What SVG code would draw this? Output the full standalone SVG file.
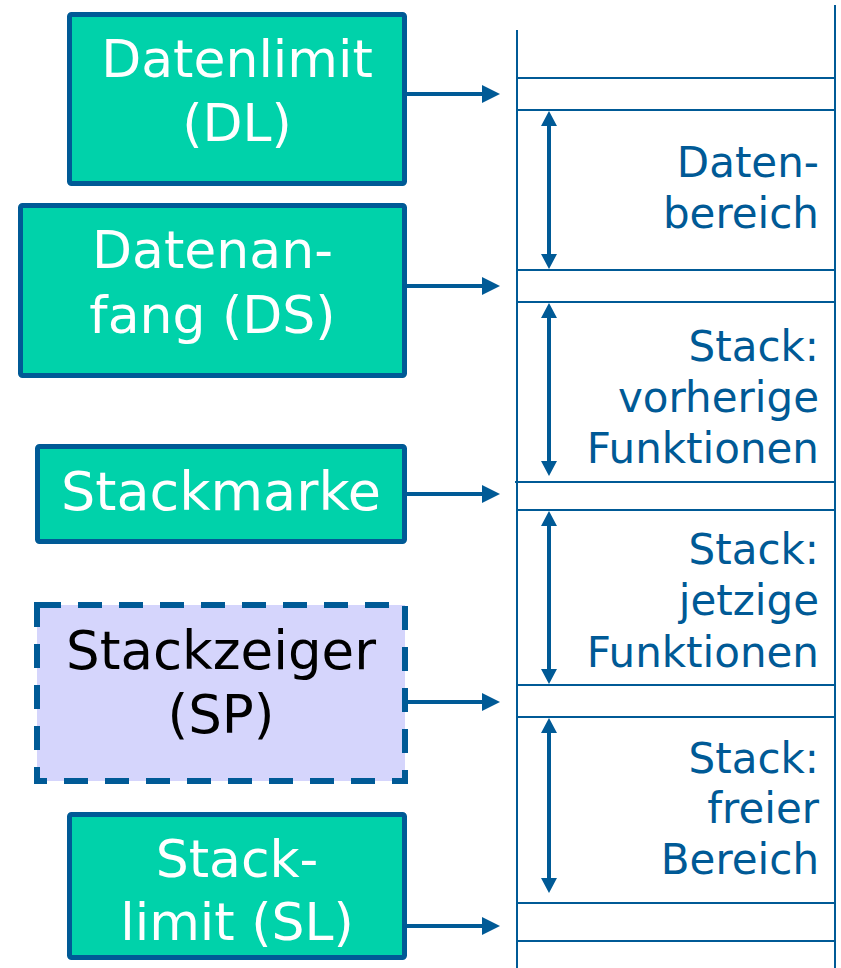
<svg xmlns="http://www.w3.org/2000/svg" width="841" height="968" viewBox="0 0 841 968">
  <defs>
    <style>
      .box { fill: #00d2aa; stroke: #005a96; stroke-width: 5; }
      .sp { fill: #d5d5fc; stroke: #005a96; stroke-width: 6; stroke-dasharray: 24 17; }
      .lbl { font-family: "DejaVu Sans", Verdana, sans-serif; font-size: 52px; fill: #ffffff; text-anchor: middle; }
      .lbl.dark { fill: #000000; }
      .lbl.wide { font-size: 54px; }
      .lbl.mid { font-size: 53px; }
      .area { font-family: "DejaVu Sans", Verdana, sans-serif; font-size: 42px; fill: #005a96; text-anchor: end; }
      .mem { stroke: #005a96; stroke-width: 2; fill: none; }
      .ptr { stroke: #005a96; stroke-width: 4; fill: none; marker-end: url(#head); }
      .span { stroke: #005a96; stroke-width: 4; fill: none; marker-start: url(#tip); marker-end: url(#tip); }
    </style>
    <!-- pointer arrowhead, 18 long x 18 wide -->
    <marker id="head" viewBox="0 0 18 18" refX="2" refY="9" markerWidth="18" markerHeight="18" markerUnits="userSpaceOnUse" orient="auto">
      <path d="M0,0 L18,9 L0,18 Z" fill="#005a96"/>
    </marker>
    <!-- span arrowheads, 15 long x 16 wide -->
    <marker id="tip" viewBox="0 0 15 16" refX="2" refY="8" markerWidth="15" markerHeight="16" markerUnits="userSpaceOnUse" orient="auto-start-reverse">
      <path d="M0,0 L15,8 L0,16 Z" fill="#005a96"/>
    </marker>
  </defs>

  <!-- memory column -->
  <g id="memory">
    <line class="mem" x1="517" y1="30" x2="517" y2="968"/>
    <line class="mem" x1="835" y1="5" x2="835" y2="968"/>
    <line class="mem" x1="517" y1="78" x2="835" y2="78"/>
    <line class="mem" x1="517" y1="110" x2="835" y2="110"/>
    <line class="mem" x1="517" y1="270" x2="835" y2="270"/>
    <line class="mem" x1="517" y1="302" x2="835" y2="302"/>
    <line class="mem" x1="515" y1="482" x2="835" y2="482"/>
    <line class="mem" x1="517" y1="510" x2="835" y2="510"/>
    <line class="mem" x1="517" y1="685" x2="835" y2="685"/>
    <line class="mem" x1="517" y1="717" x2="835" y2="717"/>
    <line class="mem" x1="518" y1="903" x2="835" y2="903"/>
    <line class="mem" x1="517" y1="941" x2="835" y2="941"/>
  </g>

  <!-- area labels -->
  <g id="area-data">
    <text class="area" x="819" y="177">Daten-</text>
    <text class="area" x="819" y="228">bereich</text>
  </g>
  <g id="area-prev">
    <text class="area" x="819" y="361">Stack:</text>
    <text class="area" x="819" y="412">vorherige</text>
    <text class="area" x="819" y="463">Funktionen</text>
  </g>
  <g id="area-curr">
    <text class="area" x="819" y="564">Stack:</text>
    <text class="area" x="819" y="615">jetzige</text>
    <text class="area" x="819" y="667">Funktionen</text>
  </g>
  <g id="area-free">
    <text class="area" x="819" y="773">Stack:</text>
    <text class="area" x="819" y="823">freier</text>
    <text class="area" x="819" y="874">Bereich</text>
  </g>

  <!-- register boxes -->
  <g id="dl">
    <rect class="box" x="69.5" y="14.5" width="335" height="169" rx="2"/>
    <text class="lbl" x="237" y="77">Datenlimit</text>
    <text class="lbl" x="237" y="141">(DL)</text>
  </g>
  <g id="ds">
    <rect class="box" x="20.5" y="205.5" width="384" height="170" rx="2"/>
    <text class="lbl" x="212.5" y="268">Datenan-</text>
    <text class="lbl" x="212.5" y="333">fang (DS)</text>
  </g>
  <g id="sm">
    <rect class="box" x="37.5" y="446.5" width="367" height="95" rx="2"/>
    <text class="lbl wide" x="221" y="510">Stackmarke</text>
  </g>
  <g id="sp">
    <rect class="sp" x="37" y="605" width="368" height="176"/>
    <text class="lbl dark mid" x="221" y="669">Stackzeiger</text>
    <text class="lbl dark mid" x="221" y="733">(SP)</text>
  </g>
  <g id="sl">
    <rect class="box" x="69.5" y="814.5" width="335" height="143" rx="2"/>
    <text class="lbl" x="237" y="877">Stack-</text>
    <text class="lbl" x="237" y="940">limit (SL)</text>
  </g>

  <!-- connectors -->
  <g id="connectors">
    <line class="ptr" x1="407" y1="94" x2="484" y2="94"/>
    <line class="ptr" x1="407" y1="286" x2="484" y2="286"/>
    <line class="ptr" x1="407" y1="494" x2="484" y2="494"/>
    <line class="ptr" x1="408" y1="702" x2="484" y2="702"/>
    <line class="ptr" x1="407" y1="926" x2="484" y2="926"/>
    <line class="span" x1="549" y1="124" x2="549" y2="256"/>
    <line class="span" x1="549" y1="316" x2="549" y2="463"/>
    <line class="span" x1="549" y1="524" x2="549" y2="671"/>
    <line class="span" x1="549" y1="731" x2="549" y2="880"/>
  </g>
</svg>
